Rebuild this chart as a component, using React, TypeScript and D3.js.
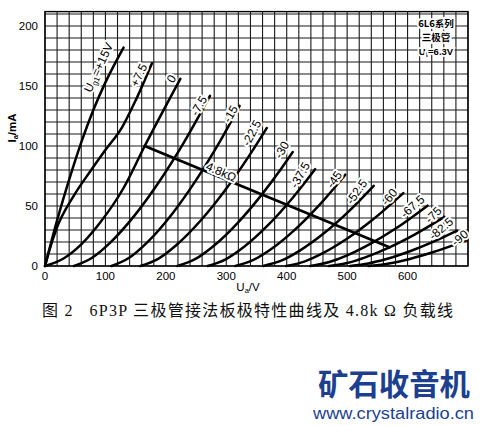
import React from "react";
import * as d3 from "d3";

// ---- data ----
const xTicks = [0, 100, 200, 300, 400, 500, 600];
const yTicks = [0, 50, 100, 150, 200];
const curveLabels = ["+15", "+7.5", "0", "-7.5", "-15", "-22.5", "-30", "-37.5", "-45", "-52.5", "-60", "-67.5", "-75", "-82.5", "-90"];

const ugP15 = [[0, 0], [20, 38], [40, 72], [60, 103], [80, 130], [100, 153], [130, 182]];
const ugP7_5 = [[0, 0], [6, 11], [19, 31], [47, 58], [75, 79], [99, 96], [128, 116], [150, 138], [177, 169]];
const ug0 = [[0, 0], [30, 6], [60, 18], [91, 36], [130, 65], [165, 100], [224, 156]];
const ugM7_5 = [[48, 0], [78, 6.9], [108, 19.5], [148, 42], [188, 69.6], [228, 101.4], [273, 141.8]];
const ugM15 = [[110, 0], [140, 7.1], [170, 20.1], [210, 43.2], [250, 71.6], [290, 104.3], [322, 133.4]];
const ugM22_5 = [[158, 0], [188, 6.2], [218, 17.7], [258, 38.1], [298, 63.1], [338, 92], [367, 115]];
const ugM30 = [[219, 0], [249, 5.9], [279, 16.7], [319, 36], [359, 59.7], [389, 79.8], [410, 95]];
const ugM37_5 = [[269, 0], [299, 5.6], [329, 15.8], [369, 34], [409, 56.3], [447, 80.7]];
const ugM45 = [[315, 0], [345, 5.1], [375, 14.4], [415, 31], [455, 51.4], [497, 76.1]];
const ugM52_5 = [[361, 0], [391, 4.4], [421, 12.6], [461, 27], [501, 44.7], [544, 66.8]];
const ugM60 = [[399, 0], [429, 3.7], [459, 10.5], [499, 22.5], [539, 37.3], [593, 60.8]];
const ugM67_5 = [[439, 0], [469, 3.1], [499, 8.6], [539, 18.6], [579, 30.8], [633, 50.3]];
const ugM75 = [[470, 0], [500, 2.5], [530, 7.2], [570, 15.5], [610, 25.7], [661, 40.9]];
const ugM82_5 = [[505, 0], [535, 2.1], [565, 5.8], [605, 12.5], [645, 20.7], [682, 29.4]];
const ugM90 = [[535, 0], [565, 1.7], [595, 4.8], [635, 10.4], [675, 17.2], [698, 21.6]];

const loadLine = [[165, 100], [570, 15.6]];

const curveSeries = [ugP15, ugP7_5, ug0, ugM7_5, ugM15, ugM22_5, ugM30, ugM37_5, ugM45, ugM52_5, ugM60, ugM67_5, ugM75, ugM82_5, ugM90];

// ---- layout (label placement relative to curve ends) ----
const labelLayout: [number, number, number][] = [
  [-25, 20, -65], [-13, 12, -65], [-9, 0, -60], [-11, 10, -60], [-9, 8, -60],
  [-15, 5, -62], [-11, -2, -60], [-15, 6, -60], [-11, 5, -55], [-17, 6, -55],
  [-14, 4, -50], [-15, 1, -42], [-11, -2, -45], [-16, -2, -40], [-7, -2, -40],
];

const W = 482, H = 426;
const x = d3.scaleLinear().domain([0, 700]).range([45, 468]);
const y = d3.scaleLinear().domain([0, 212]).range([266, 11.6]);

const line = d3
  .line<number[]>()
  .x((d) => x(d[0]))
  .y((d) => y(d[1]))
  .curve(d3.curveMonotoneX);

const LAT = "'Liberation Sans', Arial, sans-serif";
const CJK = "'Noto Sans CJK SC', sans-serif";
const SERIF = "'Liberation Serif', 'Noto Sans CJK SC', serif";
const BLUE = "#1d3f8f";

export default function App() {
  const vGrid = d3.range(0, 701, 20);
  const hGrid = d3.range(0, 211, 10);
  return (
    <svg width={W} height={H} viewBox={`0 0 ${W} ${H}`} style={{ display: "block", position: "absolute", left: 0, top: 0, background: "#fff" }}>
      <rect x={0} y={0} width={W} height={H} fill="#fff" />
      {/* grid */}
      <g stroke="#1a1a1a" strokeWidth={1.1}>
        {vGrid.map((v) => (
          <line key={"v" + v} x1={x(v)} x2={x(v)} y1={y(212)} y2={y(0)} />
        ))}
        {hGrid.map((v) => (
          <line key={"h" + v} x1={x(0)} x2={x(700)} y1={y(v)} y2={y(v)} />
        ))}
      </g>
      <rect x={x(0)} y={y(212)} width={x(700) - x(0)} height={y(0) - y(212)} fill="none" stroke="#000" strokeWidth={1.4} />

      {/* curves */}
      <g fill="none" stroke="#000" strokeWidth={2.5} strokeLinecap="round">
        {curveSeries.map((s, i) => (
          <path key={i} d={line(s) || ""} />
        ))}
        <path d={d3.line<number[]>().x((d) => x(d[0])).y((d) => y(d[1]))(loadLine) || ""} strokeWidth={2.7} />
      </g>

      {/* curve labels */}
      <g fontFamily={LAT} fontSize={12} fill="#000" stroke="#fff" strokeWidth={4} paintOrder="stroke" strokeLinejoin="round">
        {curveSeries.map((s, i) => {
          const end = s[s.length - 1];
          const [dx, dy, ang] = labelLayout[i];
          const cx = x(end[0]) + dx;
          const cy = y(end[1]) + dy;
          return (
            <text key={i} x={cx} y={cy} textAnchor="middle" dominantBaseline="central" transform={`rotate(${ang},${cx},${cy})`}>
              {i === 0 ? (
                <>
                  <tspan>U</tspan>
                  <tspan fontSize={8} dy={3}>g1</tspan>
                  <tspan dy={-3}>{"=" + curveLabels[i] + "V"}</tspan>
                </>
              ) : (
                curveLabels[i]
              )}
            </text>
          );
        })}
        <text x={221} y={172} textAnchor="middle" dominantBaseline="central" transform="rotate(24,221,172)">
          4.8kΩ
        </text>
      </g>

      {/* legend box */}
      <g fontFamily={CJK} fontSize={9.5} fontWeight={700} fill="#000" stroke="#fff" strokeWidth={3.5} paintOrder="stroke" textAnchor="middle">
        <text x={436} y={27}>6L6系列</text>
        <text x={436} y={41}>三极管</text>
        <text x={436} y={55} fontFamily={LAT}>
          U<tspan fontSize={7} dy={2}>f</tspan><tspan dy={-2}>=6.3V</tspan>
        </text>
      </g>

      {/* axes tick labels */}
      <g fontFamily={LAT} fontSize={11.5} fill="#000">
        {xTicks.map((t) => (
          <text key={"xt" + t} x={x(t)} y={280} textAnchor="middle">{t}</text>
        ))}
        {yTicks.map((t) => (
          <text key={"yt" + t} x={38} y={y(t) + 4} textAnchor="end">{t}</text>
        ))}
        <text x={248} y={291} textAnchor="middle">
          U<tspan fontSize={7.5} dy={2}>a</tspan><tspan dy={-2}>/V</tspan>
        </text>
        <text transform="translate(16,128) rotate(-90)" textAnchor="middle" fontWeight={700}>
          I<tspan fontSize={7.5} dy={2}>a</tspan><tspan dy={-2}>/mA</tspan>
        </text>
      </g>

      {/* caption */}
      <text x={42} y={316} fontFamily={SERIF} fontSize={16} fill="#111" textLength={411} lengthAdjust="spacing" style={{ whiteSpace: "pre" }}>
        {"图 2   6P3P 三极管接法板极特性曲线及 4.8k Ω 负载线"}
      </text>

      {/* watermark */}
      <text x={318} y={395} fontFamily={CJK} fontSize={30} fontWeight={700} fill={BLUE} textLength={152} lengthAdjust="spacingAndGlyphs">
        矿石收音机
      </text>
      <text x={313} y={419} fontFamily={LAT} fontSize={16} fill={BLUE} textLength={161} lengthAdjust="spacingAndGlyphs">
        www.crystalradio.cn
      </text>
    </svg>
  );
}
